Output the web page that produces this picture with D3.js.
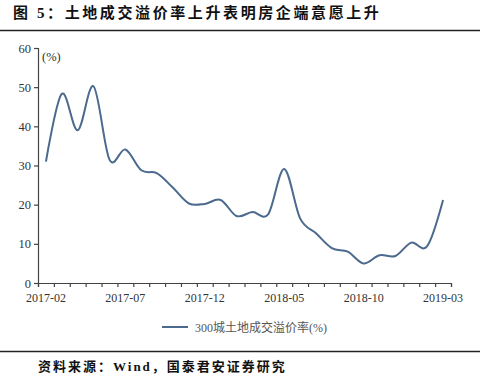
<!DOCTYPE html>
<html>
<head>
<meta charset="utf-8">
<script src="https://cdn.jsdelivr.net/npm/d3@7"></script>
<style>
  body { margin: 0; background: #fff; }
  svg { display: block; }
</style>
</head>
<body>
<div id="chart"></div>
<script>
const months = ['2017-02','2017-03','2017-04','2017-05','2017-06','2017-07','2017-08','2017-09','2017-10','2017-11','2017-12',
  '2018-01','2018-02','2018-03','2018-04','2018-05','2018-06','2018-07','2018-08','2018-09','2018-10','2018-11','2018-12',
  '2019-01','2019-02','2019-03'];
const premium = [31, 48.3, 39, 50.2, 31.5, 34.1, 28.8, 28, 24.3, 20.3, 20.2,
  21.2, 17.1, 18.1, 17.6, 29.1, 16.5, 12.7, 8.9, 8, 5, 7.1, 6.9,
  10.3, 9.4, 21.2];
const xLabels = ['2017-02','2017-07','2017-12','2018-05','2018-10','2019-03'];
const yTicks = [0, 10, 20, 30, 40, 50, 60];
const seriesName = '300城土地成交溢价率(%)';

const w = 480, h = 376;
const plotL = 38, plotR = 451, plotT = 48, plotB = 283;
const serif = '"Liberation Serif", "Noto Sans CJK SC", serif';

const svg = d3.select('#chart').append('svg')
  .attr('width', w)
  .attr('height', h);

// title + rules
svg.append('text')
  .attr('x', 13).attr('y', 18)
  .attr('font-family', serif)
  .attr('font-weight', 'bold')
  .attr('font-size', 15)
  .attr('letter-spacing', 2.6)
  .attr('fill', '#111')
  .text('图 5：土地成交溢价率上升表明房企端意愿上升');

svg.append('line')
  .attr('x1', 0).attr('x2', w).attr('y1', 30.5).attr('y2', 30.5)
  .attr('stroke', '#222').attr('stroke-width', 1.5);

svg.append('line')
  .attr('x1', 0).attr('x2', w).attr('y1', 351.5).attr('y2', 351.5)
  .attr('stroke', '#222').attr('stroke-width', 1.5);

svg.append('text')
  .attr('x', 38).attr('y', 371)
  .attr('font-family', serif)
  .attr('font-weight', 'bold')
  .attr('font-size', 13)
  .attr('letter-spacing', 2)
  .attr('fill', '#111')
  .text('资料来源：Wind，国泰君安证券研究');

// scales
const x = d3.scaleBand().domain(months).range([plotL, plotR]).padding(0);
const xIdx = d3.scaleLinear().domain([0, months.length]).range([plotL, plotR]);
const y = d3.scaleLinear().domain([0, 60]).range([plotB, plotT]);

// y axis
const yAxis = svg.append('g')
  .attr('transform', `translate(${plotL},0)`)
  .call(d3.axisLeft(y).tickValues(yTicks).tickSize(4).tickPadding(3));
yAxis.selectAll('text').attr('font-family', serif).attr('font-size', 12.5).attr('fill', '#333');

// x axis ticks at band edges
svg.append('g')
  .attr('transform', `translate(0,${plotB})`)
  .call(d3.axisBottom(xIdx).tickValues(d3.range(months.length + 1)).tickSize(4).tickFormat(''));

// x labels at band centres
const xLabelAxis = svg.append('g')
  .attr('transform', `translate(0,${plotB})`)
  .call(d3.axisBottom(x).tickValues(xLabels).tickSize(0).tickPadding(10));
xLabelAxis.select('.domain').remove();
xLabelAxis.selectAll('text').attr('font-family', serif).attr('font-size', 12).attr('fill', '#333');

svg.selectAll('.domain, .tick line').attr('stroke', '#444').attr('stroke-width', 1.2);

svg.append('text')
  .attr('x', plotL + 4).attr('y', y(60) + 13)
  .attr('font-family', serif).attr('font-size', 12.5).attr('fill', '#333')
  .text('(%)');

// line
const line = d3.line()
  .x((d, i) => x(months[i]) + x.bandwidth() / 2)
  .y(d => y(d))
  .curve(d3.curveCardinal.tension(0));

svg.append('path')
  .datum(premium)
  .attr('fill', 'none')
  .attr('stroke', '#4B6A8E')
  .attr('stroke-width', 2)
  .attr('d', line);

// legend
svg.append('line')
  .attr('x1', 162).attr('x2', 188).attr('y1', 327).attr('y2', 327)
  .attr('stroke', '#4B6A8E').attr('stroke-width', 2);
svg.append('text')
  .attr('x', 195).attr('y', 331.5)
  .attr('font-family', serif).attr('font-size', 12).attr('fill', '#555')
  .text(seriesName);
</script>
</body>
</html>
